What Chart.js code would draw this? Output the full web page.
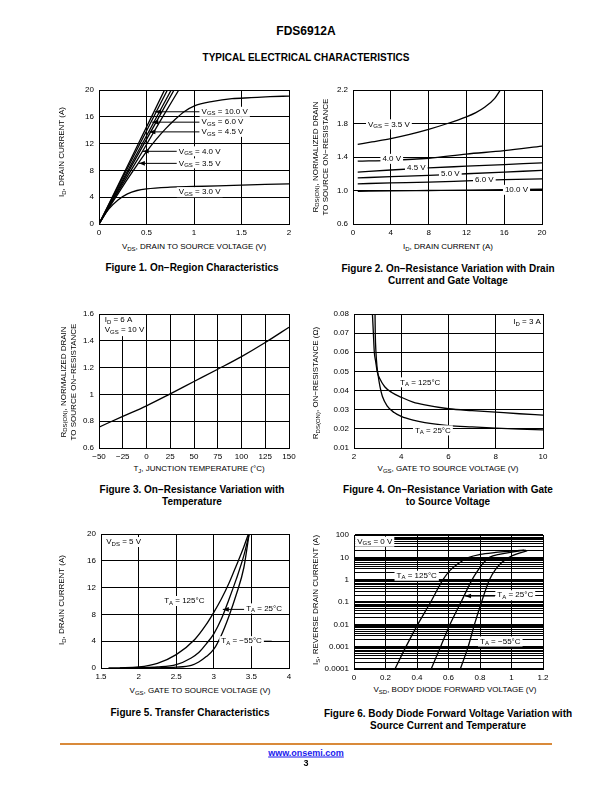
<!DOCTYPE html>
<html><head><meta charset="utf-8">
<script src="https://cdn.jsdelivr.net/npm/chart.js@4.4.1/dist/chart.umd.min.js"></script>
<style>
body{margin:0;background:#fff;}
#page{position:relative;width:612px;height:792px;overflow:hidden;font-family:"Liberation Sans",Arial,Helvetica,sans-serif;color:#000;background:#fff;}
.t{position:absolute;white-space:nowrap;transform:translate(-50%,-50%);line-height:1;}
.ax{font-size:8px;}
.cap{font-size:10px;font-weight:bold;text-align:center;line-height:11.5px;}
.rot{transform:translate(-50%,-50%) rotate(-90deg);text-align:center;line-height:9.5px;}
sub{font-size:6px;vertical-align:-1.5px;line-height:0;}
canvas{position:absolute;}
</style></head>
<body>
<div id="page">
  <div class="t" style="left:306px;top:31px;font-size:12px;font-weight:bold;">FDS6912A</div>
  <div class="t" style="left:306px;top:58px;font-size:10px;font-weight:bold;">TYPICAL ELECTRICAL CHARACTERISTICS</div>

  <canvas id="c1"></canvas><canvas id="c2"></canvas><canvas id="c3"></canvas>
  <canvas id="c4"></canvas><canvas id="c5"></canvas><canvas id="c6"></canvas>

  <!-- Figure 1 -->
  <div class="t ax" style="left:194px;top:247px;">V<sub>DS</sub>, DRAIN TO SOURCE VOLTAGE (V)</div>
  <div class="t ax rot" style="left:62px;top:152px;">I<sub>D</sub>, DRAIN CURRENT (A)</div>
  <div class="t cap" style="left:192px;top:268px;">Figure 1. On−Region Characteristics</div>
  <!-- Figure 2 -->
  <div class="t ax" style="left:448px;top:247px;">I<sub>D</sub>, DRAIN CURRENT (A)</div>
  <div class="t ax rot" style="left:320px;top:157px;">R<sub>DS(ON)</sub>, NORMALIZED DRAIN<br>TO SOURCE ON−RESISTANCE</div>
  <div class="t cap" style="left:448px;top:274px;">Figure 2. On−Resistance Variation with Drain<br>Current and Gate Voltage</div>
  <!-- Figure 3 -->
  <div class="t ax" style="left:199px;top:469px;">T<sub>J</sub>, JUNCTION TEMPERATURE (°C)</div>
  <div class="t ax rot" style="left:68px;top:382px;">R<sub>DS(ON)</sub>, NORMALIZED DRAIN<br>TO SOURCE ON−RESISTANCE</div>
  <div class="t cap" style="left:192px;top:495px;">Figure 3. On−Resistance Variation with<br>Temperature</div>
  <!-- Figure 4 -->
  <div class="t ax" style="left:448px;top:469px;">V<sub>GS</sub>, GATE TO SOURCE VOLTAGE (V)</div>
  <div class="t ax rot" style="left:316px;top:383px;">R<sub>DS(ON)</sub>, ON−RESISTANCE (Ω)</div>
  <div class="t cap" style="left:448px;top:495px;">Figure 4. On−Resistance Variation with Gate<br>to Source Voltage</div>
  <!-- Figure 5 -->
  <div class="t ax" style="left:200px;top:691px;">V<sub>GS</sub>, GATE TO SOURCE VOLTAGE (V)</div>
  <div class="t ax rot" style="left:62px;top:600px;">I<sub>D</sub>, DRAIN CURRENT (A)</div>
  <div class="t cap" style="left:190px;top:713px;">Figure 5. Transfer Characteristics</div>
  <!-- Figure 6 -->
  <div class="t ax" style="left:455px;top:690px;">V<sub>SD</sub>, BODY DIODE FORWARD VOLTAGE (V)</div>
  <div class="t ax rot" style="left:316px;top:600px;">I<sub>S</sub>, REVERSE DRAIN CURRENT (A)</div>
  <div class="t cap" style="left:448px;top:719px;">Figure 6. Body Diode Forward Voltage Variation with<br>Source Current and Temperature</div>

  <div style="position:absolute;left:60px;top:743px;width:492px;height:2px;background:#D98A3A;"></div>
  <div class="t" style="left:306px;top:753px;font-size:9px;font-weight:bold;color:#1a1aee;text-decoration:underline;">www.onsemi.com</div>
  <div class="t" style="left:306px;top:763px;font-size:9px;font-weight:bold;">3</div>
</div>
<script>
// ---------- Figure 1: On-Region Characteristics (ID vs VDS) ----------
const f1_xTicks = [0, 0.5, 1, 1.5, 2];
const f1_xLabels = ['0', '0.5', '1', '1.5', '2'];
const f1_yTicks = [0, 4, 8, 12, 16, 20];
const f1_yLabels = ['0', '4', '8', '12', '16', '20'];
const f1_v10_x = [0, 0.35, 0.69];
const f1_v10_y = [0, 10.1, 20];
const f1_v6_x = [0, 0.36, 0.72];
const f1_v6_y = [0, 10, 20];
const f1_v5_x = [0, 0.38, 0.76];
const f1_v5_y = [0, 10, 20];
const f1_v45_x = [0, 0.4, 0.79];
const f1_v45_y = [0, 10.1, 20];
const f1_v40_x = [0, 0.23, 0.46, 0.65, 0.84];
const f1_v40_y = [0, 5.5, 10.9, 15.5, 20];
const f1_v35_x = [0, 0.1, 0.2, 0.3, 0.4, 0.5, 0.6, 0.7, 0.8, 0.9, 1.0, 1.2, 1.4, 1.6, 1.8, 2.0];
const f1_v35_y = [0, 2.3, 4.5, 6.7, 8.8, 10.8, 12.6, 14.2, 15.6, 16.8, 17.6, 18.3, 18.7, 18.85, 19.0, 19.1];
const f1_v30_x = [0, 0.05, 0.1, 0.2, 0.3, 0.4, 0.5, 0.75, 1, 1.5, 2];
const f1_v30_y = [0, 1.2, 2.2, 3.6, 4.5, 5.0, 5.25, 5.5, 5.6, 5.8, 6.0];

// ---------- Figure 2: normalized RDS(on) vs ID ----------
const f2_xTicks = [0, 4, 8, 12, 16, 20];
const f2_xLabels = ['0', '4', '8', '12', '16', '20'];
const f2_yTicks = [0.6, 1.0, 1.4, 1.8, 2.2];
const f2_yLabels = ['0.6', '1.0', '1.4', '1.8', '2.2'];
const f2_v35_x = [0.5, 2, 4, 6, 8, 10, 12, 13, 14, 15, 15.6];
const f2_v35_y = [1.55, 1.58, 1.62, 1.67, 1.73, 1.80, 1.88, 1.93, 2.0, 2.1, 2.2];
const f2_id = [0.5, 4, 8, 12, 16, 20];
const f2_v40_y = [1.35, 1.36, 1.385, 1.435, 1.475, 1.53];
const f2_v45_y = [1.22, 1.245, 1.27, 1.29, 1.31, 1.33];
const f2_v50_y = [1.15, 1.165, 1.18, 1.2, 1.22, 1.24];
const f2_v60_y = [1.08, 1.09, 1.1, 1.115, 1.13, 1.14];
const f2_v10_y = [0.99, 0.995, 1.0, 1.005, 1.01, 1.015];

// ---------- Figure 3: normalized RDS(on) vs TJ ----------
const f3_xTicks = [-50, -25, 0, 25, 50, 75, 100, 125, 150];
const f3_xLabels = ['−50', '−25', '0', '25', '50', '75', '100', '125', '150'];
const f3_yTicks = [0.6, 0.8, 1, 1.2, 1.4, 1.6];
const f3_yLabels = ['0.6', '0.8', '1', '1.2', '1.4', '1.6'];
const f3_tj = [-50, -25, 0, 25, 50, 75, 100, 125, 150];
const f3_r = [0.756, 0.836, 0.915, 1.004, 1.096, 1.188, 1.282, 1.387, 1.501];

// ---------- Figure 4: RDS(on) vs VGS ----------
const f4_xTicks = [2, 4, 6, 8, 10];
const f4_xLabels = ['2', '4', '6', '8', '10'];
const f4_yTicks = [0.01, 0.02, 0.03, 0.04, 0.05, 0.06, 0.07, 0.08];
const f4_yLabels = ['0.01', '0.02', '0.03', '0.04', '0.05', '0.06', '0.07', '0.08'];
const f4_t125_x = [2.78, 2.82, 2.86, 2.92, 2.98, 3.1, 3.3, 3.6, 4, 4.5, 5, 6, 7, 8, 9, 10];
const f4_t125_y = [0.08, 0.07, 0.06, 0.055, 0.05, 0.046, 0.042, 0.039, 0.0365, 0.034, 0.0325, 0.0305, 0.0295, 0.0287, 0.0279, 0.0272];
const f4_t25_x = [2.89, 2.9, 2.93, 2.97, 3.02, 3.1, 3.2, 3.4, 3.7, 4, 4.5, 5, 6, 7, 8, 9, 10];
const f4_t25_y = [0.08, 0.07, 0.06, 0.053, 0.048, 0.042, 0.037, 0.032, 0.0285, 0.0265, 0.0245, 0.0232, 0.0217, 0.021, 0.0204, 0.0199, 0.0195];

// ---------- Figure 5: Transfer characteristics ----------
const f5_xTicks = [1.5, 2, 2.5, 3, 3.5, 4];
const f5_xLabels = ['1.5', '2', '2.5', '3', '3.5', '4'];
const f5_yTicks = [0, 4, 8, 12, 16, 20];
const f5_yLabels = ['0', '4', '8', '12', '16', '20'];
const f5_t125_x = [1.6, 1.75, 2, 2.25, 2.5, 2.75, 2.9, 3.0, 3.1, 3.2, 3.3, 3.4, 3.46];
const f5_t125_y = [0, 0.03, 0.15, 0.7, 2.0, 4.3, 6.5, 8.3, 10.3, 12.6, 15.3, 18.1, 20];
const f5_t25_x = [1.75, 2, 2.25, 2.5, 2.7, 2.8, 2.9, 3.0, 3.1, 3.2, 3.3, 3.4, 3.47];
const f5_t25_y = [0, 0.05, 0.15, 0.5, 1.5, 2.3, 3.6, 5.1, 7.3, 10.2, 13.3, 16.8, 20];
const f5_tm55_x = [2, 2.25, 2.5, 2.7, 2.8, 2.9, 3.0, 3.1, 3.2, 3.3, 3.4, 3.47];
const f5_tm55_y = [0, 0.03, 0.12, 0.4, 0.9, 1.7, 2.8, 4.9, 7.7, 11.0, 15.0, 20];

// ---------- Figure 6: Body diode forward voltage ----------
const f6_xTicks = [0, 0.2, 0.4, 0.6, 0.8, 1.0, 1.2];
const f6_xLabels = ['0', '0.2', '0.4', '0.6', '0.8', '1', '1.2'];
const f6_yDecades = [0.0001, 0.001, 0.01, 0.1, 1, 10, 100];
const f6_yLabels = ['0.0001', '0.001', '0.01', '0.1', '1', '10', '100'];
const f6_t125_v = [0.26, 0.33, 0.405, 0.487, 0.565, 0.61, 0.66, 0.73, 0.8, 0.9, 1.0, 1.08];
const f6_t125_i = [0.0001, 0.001, 0.01, 0.1, 1, 2.6, 5.2, 10, 13.5, 16.5, 19, 21];
const f6_t25_v = [0.49, 0.55, 0.61, 0.68, 0.75, 0.79, 0.82, 0.86, 0.93, 1.01, 1.09];
const f6_t25_i = [0.0001, 0.001, 0.01, 0.1, 1, 2.8, 5.5, 10, 14, 17.5, 21];
const f6_tm55_v = [0.675, 0.725, 0.765, 0.81, 0.86, 0.9, 0.94, 0.985, 1.045, 1.1];
const f6_tm55_i = [0.0001, 0.001, 0.01, 0.1, 1, 3, 6, 10, 15, 20];

const FONT = '"Liberation Sans", Arial, Helvetica, sans-serif';

function pts(xs, ys) { return xs.map((x, i) => ({ x: x, y: ys[i] })); }
function parts(s) {
  const out = []; const re = /_\{([^}]*)\}/g; let last = 0, m;
  while ((m = re.exec(s))) { if (m.index > last) out.push([s.slice(last, m.index), 0]); out.push([m[1], 1]); last = re.lastIndex; }
  if (last < s.length) out.push([s.slice(last), 0]);
  return out;
}

const notes = {
  id: 'notes',
  afterDatasetsDraw(chart, args, o) {
    const c = chart.ctx, X = chart.scales.x, Y = chart.scales.y, a = chart.chartArea;
    c.save();
    c.beginPath(); c.rect(a.left + 1, a.top + 1, a.right - a.left - 2, a.bottom - a.top - 2); c.clip();
    (o.boxes || []).forEach(b => {
      const x1 = X.getPixelForValue(b[0]), y1 = Y.getPixelForValue(b[1]), x2 = X.getPixelForValue(b[2]), y2 = Y.getPixelForValue(b[3]);
      c.fillStyle = '#fff'; c.fillRect(Math.min(x1, x2), Math.min(y1, y2), Math.abs(x2 - x1), Math.abs(y2 - y1));
    });
    (o.lines || []).forEach(l => {
      const x1 = X.getPixelForValue(l[0]), y1 = Y.getPixelForValue(l[1]), x2 = X.getPixelForValue(l[2]), y2 = Y.getPixelForValue(l[3]);
      c.strokeStyle = '#000'; c.lineWidth = 1;
      c.beginPath(); c.moveTo(x1, y1); c.lineTo(x2, y2); c.stroke();
      if (l[4]) {
        const ang = Math.atan2(y1 - y2, x1 - x2), L = 6, W = 2.3;
        const bx = x1 - L * Math.cos(ang), by = y1 - L * Math.sin(ang);
        c.fillStyle = '#000'; c.beginPath(); c.moveTo(x1, y1);
        c.lineTo(bx - W * Math.sin(ang), by + W * Math.cos(ang));
        c.lineTo(bx + W * Math.sin(ang), by - W * Math.cos(ang));
        c.closePath(); c.fill();
      }
    });
    (o.labels || []).forEach(lb => {
      const ps = parts(lb.t);
      const ws = ps.map(p => { c.font = (p[1] ? '6px ' : '8px ') + FONT; return c.measureText(p[0]).width; });
      const tw = ws.reduce((s, w) => s + w, 0);
      let x = X.getPixelForValue(lb.x); const y = Y.getPixelForValue(lb.y);
      if (lb.align === 'center') x -= tw / 2;
      if (lb.bg !== false) { c.fillStyle = '#fff'; c.fillRect(x - 2, y - 5, tw + 4, 10); }
      c.fillStyle = '#000'; c.textBaseline = 'middle'; c.textAlign = 'left';
      ps.forEach((p, i) => { c.font = (p[1] ? '6px ' : '8px ') + FONT; c.fillText(p[0], x, y + (p[1] ? 2 : 0)); x += ws[i]; });
    });
    c.restore();
  }
};

function axis(ticks, labels, opts) {
  return Object.assign({
    type: 'linear', min: ticks[0], max: ticks[ticks.length - 1],
    afterBuildTicks: s => { s.ticks = ticks.map(v => ({ value: v })); },
    ticks: { autoSkip: false, maxRotation: 0, minRotation: 0, padding: 4, color: '#000', font: { family: FONT, size: 8 }, callback: (v, i) => labels[i] },
    grid: { color: '#000', lineWidth: 1, drawTicks: false },
    border: { color: '#000', width: 1 }
  }, opts || {});
}

function makeChart(id, area, datasets, xa, ya, noteOpts) {
  const YW = 46, XH = 16, PT = 10, PR = 16;
  const cv = document.getElementById(id);
  cv.width = area.w + YW + PR; cv.height = area.h + PT + XH;
  cv.style.width = cv.width + 'px'; cv.style.height = cv.height + 'px';
  cv.style.left = (area.l - YW) + 'px'; cv.style.top = (area.t - PT) + 'px';
  xa.afterFit = s => { s.height = XH; };
  ya.afterFit = s => { s.width = YW; };
  ya.ticks.padding = 5;
  new Chart(cv, {
    type: 'scatter',
    data: { datasets: datasets.map(d => ({ data: d, showLine: true, borderColor: '#000', borderWidth: 1.3, pointRadius: 0, fill: false, cubicInterpolationMode: 'monotone' })) },
    options: {
      responsive: false, animation: false, devicePixelRatio: 1,
      layout: { padding: { left: 0, top: PT, right: PR, bottom: 0 } },
      plugins: { legend: { display: false }, tooltip: { enabled: false }, notes: noteOpts },
      scales: { x: xa, y: ya }
    },
    plugins: [notes]
  });
}

// Figure 1
makeChart('c1', { l: 99, t: 90, w: 190, h: 134 },
  [pts(f1_v10_x, f1_v10_y), pts(f1_v6_x, f1_v6_y), pts(f1_v5_x, f1_v5_y), pts(f1_v45_x, f1_v45_y), pts(f1_v40_x, f1_v40_y), pts(f1_v35_x, f1_v35_y), pts(f1_v30_x, f1_v30_y)],
  axis(f1_xTicks, f1_xLabels), axis(f1_yTicks, f1_yLabels),
  {
    lines: [[0.59, 16.75, 1.06, 16.75, 1], [0.56, 15.2, 1.06, 15.2, 1], [0.53, 13.75, 1.06, 13.75, 1], [0.46, 10.85, 0.82, 10.85, 1], [0.42, 9.05, 0.82, 9.05, 1]],
    labels: [
      { x: 1.08, y: 16.75, t: 'V_{GS} = 10.0 V' }, { x: 1.08, y: 15.2, t: 'V_{GS} = 6.0 V' }, { x: 1.08, y: 13.75, t: 'V_{GS} = 4.5 V' },
      { x: 0.84, y: 10.85, t: 'V_{GS} = 4.0 V' }, { x: 0.84, y: 9.05, t: 'V_{GS} = 3.5 V' }, { x: 0.84, y: 4.75, t: 'V_{GS} = 3.0 V' }
    ]
  });

// Figure 2
makeChart('c2', { l: 353, t: 90, w: 189, h: 134 },
  [pts(f2_v35_x, f2_v35_y), pts(f2_id, f2_v40_y), pts(f2_id, f2_v45_y), pts(f2_id, f2_v50_y), pts(f2_id, f2_v60_y), pts(f2_id, f2_v10_y)],
  axis(f2_xTicks, f2_xLabels), axis(f2_yTicks, f2_yLabels),
  {
    labels: [
      { x: 3.8, y: 1.79, t: 'V_{GS} = 3.5 V', align: 'center' }, { x: 4.1, y: 1.378, t: '4.0 V', align: 'center' },
      { x: 6.7, y: 1.268, t: '4.5 V', align: 'center' }, { x: 10.3, y: 1.2, t: '5.0 V', align: 'center' },
      { x: 13.9, y: 1.128, t: '6.0 V', align: 'center' }, { x: 17.3, y: 1.008, t: '10.0 V', align: 'center' }
    ]
  });

// Figure 3
makeChart('c3', { l: 99, t: 314, w: 190, h: 134 },
  [pts(f3_tj, f3_r)],
  axis(f3_xTicks, f3_xLabels), axis(f3_yTicks, f3_yLabels),
  {
    boxes: [[-50, 1.6, -1.5, 1.435]],
    labels: [{ x: -44, y: 1.555, t: 'I_{D} = 6 A', bg: false }, { x: -44, y: 1.48, t: 'V_{GS} = 10 V', bg: false }]
  });

// Figure 4
makeChart('c4', { l: 354, t: 314, w: 189, h: 134 },
  [pts(f4_t125_x, f4_t125_y), pts(f4_t25_x, f4_t25_y)],
  axis(f4_xTicks, f4_xLabels), axis(f4_yTicks, f4_yLabels),
  {
    labels: [{ x: 3.95, y: 0.0443, t: 'T_{A} = 125°C' }, { x: 4.58, y: 0.0192, t: 'T_{A} = 25°C' }, { x: 8.74, y: 0.0757, t: 'I_{D} = 3 A' }]
  });

// Figure 5
makeChart('c5', { l: 101, t: 534, w: 188, h: 134 },
  [pts(f5_t125_x, f5_t125_y), pts(f5_t25_x, f5_t25_y), pts(f5_tm55_x, f5_tm55_y)],
  axis(f5_xTicks, f5_xLabels), axis(f5_yTicks, f5_yLabels),
  {
    lines: [[3.12, 8.75, 3.41, 8.75, 1], [3.6, 4.0, 3.77, 4.0, 0]],
    labels: [
      { x: 1.57, y: 18.8, t: 'V_{DS} = 5 V' }, { x: 2.34, y: 10.0, t: 'T_{A} = 125°C' },
      { x: 3.43, y: 8.9, t: 'T_{A} = 25°C' }, { x: 3.1, y: 4.0, t: 'T_{A} = −55°C' }
    ]
  });

// Figure 6
const f6_yGrid = [];
f6_yDecades.forEach((d, k) => { if (k < f6_yDecades.length - 1) { for (let m = 1; m <= 9; m++) f6_yGrid.push(+(m * d).toPrecision(3)); } else f6_yGrid.push(d); });
const f6_y = axis(f6_yGrid, [], {
  type: 'logarithmic', min: 0.0001, max: 100,
  grid: { color: '#000', drawTicks: false, lineWidth: c => (c.tick && f6_yDecades.indexOf(c.tick.value) >= 0) ? 1.6 : 1.1 }
});
f6_y.ticks = Object.assign({}, f6_y.ticks, { callback: v => { const k = f6_yDecades.indexOf(v); return k >= 0 ? f6_yLabels[k] : ''; } });
makeChart('c6', { l: 354, t: 535, w: 189, h: 134 },
  [pts(f6_t125_v, f6_t125_i), pts(f6_t25_v, f6_t25_i), pts(f6_tm55_v, f6_tm55_i)],
  axis(f6_xTicks, f6_xLabels), f6_y,
  {
    lines: [[0.705, 0.185, 0.895, 0.185, 1]],
    labels: [
      { x: 0.02, y: 50, t: 'V_{GS} = 0 V' }, { x: 0.27, y: 1.5, t: 'T_{A} = 125°C' },
      { x: 0.91, y: 0.2, t: 'T_{A} = 25°C' }, { x: 0.8, y: 0.0017, t: 'T_{A} = −55°C' }
    ]
  });
</script>
</body></html>
